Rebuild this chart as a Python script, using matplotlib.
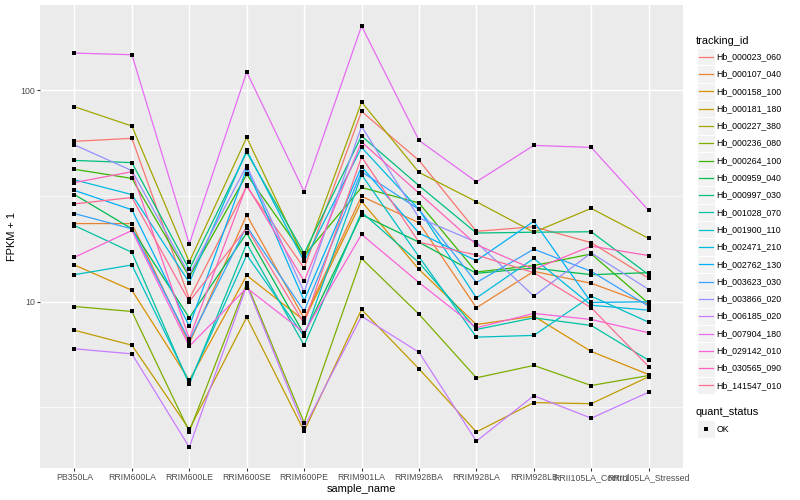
import matplotlib
matplotlib.use("Agg")
import matplotlib.pyplot as plt
from matplotlib.lines import Line2D
from matplotlib.patches import Rectangle
import numpy as np

plt.rcParams['font.family'] = ['Liberation Sans', 'DejaVu Sans']

samples = ["PB350LA", "RRIM600LA", "RRIM600LE", "RRIM600SE", "RRIM600PE",
           "RRIM901LA", "RRIM928BA", "RRIM928LA", "RRIM928LB",
           "RRII105LA_Control", "RRII105LA_Stressed"]

tracking_ids = ["Hb_000023_060", "Hb_000107_040", "Hb_000158_100", "Hb_000181_180",
                "Hb_000227_380", "Hb_000236_080", "Hb_000264_100", "Hb_000959_040",
                "Hb_000997_030", "Hb_001028_070", "Hb_001900_110", "Hb_002471_210",
                "Hb_002762_130", "Hb_003623_030", "Hb_003866_020", "Hb_006185_020",
                "Hb_007904_180", "Hb_029142_010", "Hb_030565_090", "Hb_141547_010"]

# FPKM + 1 values per tracking id, in sample order
hb_000023_060 = [57.4, 59.3, 10.3, 35.1, 14.4, 79.5, 46.6, 21.5, 22.6, 19.0, 12.9]
hb_000107_040 = [23.4, 23.4, 6.33, 25.7, 8.31, 31.5, 23.6, 9.34, 13.9, 12.2, 9.7]
hb_000158_100 = [14.9, 11.3, 4.23, 13.3, 8.13, 29.8, 14.2, 7.78, 8.52, 5.80, 4.51]
hb_000181_180 = [7.31, 6.21, 2.48, 8.43, 2.43, 9.17, 4.80, 2.41, 3.32, 3.28, 4.40]
hb_000227_380 = [83.7, 67.8, 15.4, 59.9, 15.9, 88.1, 40.9, 29.7, 21.3, 27.6, 19.9]
hb_000236_080 = [9.47, 8.97, 2.42, 12.2, 2.67, 16.0, 8.71, 4.35, 4.98, 4.00, 4.46]
hb_000264_100 = [42.3, 38.3, 13.1, 40.0, 16.5, 34.7, 29.3, 13.8, 14.8, 16.8, 9.8]
hb_000959_040 = [32.1, 22.1, 8.37, 21.1, 6.98, 25.8, 19.1, 13.6, 14.4, 13.4, 13.7]
hb_000997_030 = [46.6, 45.5, 14.2, 50.9, 16.9, 60.8, 35.4, 21.1, 21.3, 21.4, 13.4]
hb_001028_070 = [22.9, 17.1, 4.05, 18.8, 6.21, 26.5, 15.3, 7.37, 8.37, 7.70, 5.27]
hb_001900_110 = [13.4, 14.9, 4.14, 16.6, 6.83, 39.9, 16.3, 6.78, 6.91, 10.6, 7.98]
hb_002471_210 = [37.7, 32.1, 12.3, 52.0, 15.5, 53.7, 27.3, 10.4, 16.0, 9.6, 9.1]
hb_002762_130 = [33.6, 27.2, 7.64, 42.7, 10.1, 43.5, 21.1, 15.6, 24.0, 9.9, 9.97]
hb_003623_030 = [26.1, 22.1, 6.52, 22.7, 9.0, 41.2, 27.3, 12.3, 17.7, 13.9, 9.5]
hb_003866_020 = [55.2, 41.7, 13.4, 44.0, 11.1, 67.5, 24.9, 19.1, 10.6, 17.0, 11.4]
hb_006185_020 = [5.97, 5.65, 2.04, 11.9, 2.53, 8.52, 5.75, 2.18, 3.58, 2.80, 3.72]
hb_007904_180 = [150.3, 147.6, 18.75, 122.2, 33.2, 201.8, 58.0, 36.9, 54.9, 53.7, 27.0]
hb_029142_010 = [16.2, 21.7, 6.14, 11.6, 7.13, 20.8, 12.3, 7.51, 8.78, 8.22, 7.11]
hb_030565_090 = [36.6, 41.2, 6.66, 35.5, 12.5, 57.0, 32.6, 18.6, 14.2, 18.3, 16.5]
hb_141547_010 = [29.0, 31.1, 10.0, 22.3, 7.87, 48.4, 19.1, 16.6, 13.7, 9.34, 4.92]

series = [hb_000023_060, hb_000107_040, hb_000158_100, hb_000181_180, hb_000227_380,
          hb_000236_080, hb_000264_100, hb_000959_040, hb_000997_030, hb_001028_070,
          hb_001900_110, hb_002471_210, hb_002762_130, hb_003623_030, hb_003866_020,
          hb_006185_020, hb_007904_180, hb_029142_010, hb_030565_090, hb_141547_010]

colors = ["#F8766D", "#EA8331", "#D89000", "#C09B00", "#A3A500", "#7CAE00", "#39B600",
          "#00BB4E", "#00BF7D", "#00C1A3", "#00BFC4", "#00BAE0", "#00B0F6", "#35A2FF",
          "#9590FF", "#C77CFF", "#E76BF3", "#FA62DB", "#FF62BC", "#FF6C91"]

W, H = 800, 500
fig = plt.figure(figsize=(W / 100, H / 100), dpi=100)

def fx(px):
    return px / W

def fy(py):
    return 1 - py / H

pl, pr, pt, pb = 40.0, 683.1, 5.0, 468.3
ax = fig.add_axes([fx(pl), fy(pb), fx(pr - pl), (pb - pt) / H])
ax.set_facecolor("#EBEBEB")
for s in ax.spines.values():
    s.set_visible(False)

x = np.arange(len(samples))
ax.set_yscale("log")
allv = np.log10(np.concatenate([np.asarray(s, float) for s in series]))
lo, hi = allv.min(), allv.max()
r = hi - lo
ax.set_ylim(10 ** (lo - 0.05 * r), 10 ** (hi + 0.05 * r))
ax.set_xlim(-0.6, len(samples) - 1 + 0.6)

# grid
for v in [10 ** 0.5, 10 ** 1.5, 10 ** 2.5]:
    ax.axhline(v, color="white", lw=0.51, zorder=0.5)
for v in [10, 100]:
    ax.axhline(v, color="white", lw=1.02, zorder=0.6)
for xi in x:
    ax.axvline(xi, color="white", lw=1.02, zorder=0.6)

for vals, c in zip(series, colors):
    ax.plot(x, vals, color=c, lw=0.9, zorder=2, solid_capstyle="butt")
for vals in series:
    ax.plot(x, vals, ls="none", marker="s", ms=3.0, mfc="black", mec="black",
            mew=0, zorder=3)

ax.set_yticks([10, 100])
ax.set_yticklabels(["10", "100"])
ax.yaxis.set_minor_locator(matplotlib.ticker.NullLocator())
ax.set_xticks(x)
ax.set_xticklabels(samples)
ax.tick_params(axis="both", which="major", length=1.98, width=0.77, color="#333333",
               labelsize=6.34, labelcolor="#4D4D4D", pad=1.6)

fig.text(fx((pl + pr) / 2), fy(488.5), "sample_name", ha="center", va="center",
         fontsize=7.92, color="black")
fig.text(fx(12), fy((pt + pb) / 2), "FPKM + 1", ha="center", va="center",
         rotation=90, fontsize=7.92, color="black")

# legend: tracking_id
key = 17.3
kx = 697.3
fig.text(fx(696), fy(40.7), "tracking_id", ha="left", va="center", fontsize=7.92)
top0 = 56.7 - key / 2
for i, (name, c) in enumerate(zip(tracking_ids, colors)):
    ty = top0 + i * key
    fig.add_artist(Rectangle((fx(kx), fy(ty + key)), key / W, key / H,
                             transform=fig.transFigure, facecolor="#F2F2F2",
                             edgecolor="white", lw=0.7))
    cy = ty + key / 2
    fig.add_artist(Line2D([fx(kx + 1.7), fx(kx + key - 1.7)], [fy(cy), fy(cy)],
                          transform=fig.transFigure, color=c, lw=0.9))
    fig.text(fx(716.7), fy(cy), name, ha="left", va="center", fontsize=6.34)

# legend: quant_status
fig.text(fx(696), fy(412), "quant_status", ha="left", va="center", fontsize=7.92)
qy = 429 - key / 2
fig.add_artist(Rectangle((fx(kx), fy(qy + key)), key / W, key / H,
                         transform=fig.transFigure, facecolor="#F2F2F2",
                         edgecolor="white", lw=0.7))
fig.add_artist(Line2D([fx(kx + key / 2)], [fy(429)], transform=fig.transFigure,
                      ls="none", marker="s", ms=3.0, mfc="black", mec="black", mew=0))
fig.text(fx(716.7), fy(429), "OK", ha="left", va="center", fontsize=6.34)

fig.savefig("out.png", dpi=100, facecolor="white")
